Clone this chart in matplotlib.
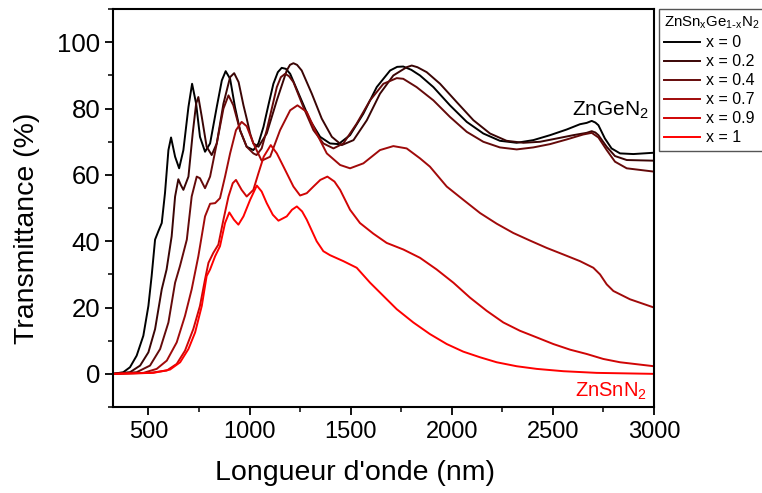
import numpy as np
import matplotlib
matplotlib.use('Agg')
import matplotlib.pyplot as plt
from matplotlib.ticker import MultipleLocator

plt.rcParams['font.family'] = ['Liberation Sans', 'DejaVu Sans']
plt.rcParams['mathtext.default'] = 'regular'

# values: (wavelength nm, transmittance %)
wl_x0 = [325, 376, 409, 442, 475, 500, 516, 533, 549, 566, 582, 599, 612, 632, 652, 673, 698, 716, 736, 755,
         780, 805, 838, 863, 882, 904, 928, 953, 986, 1019, 1044, 1069, 1095, 1118, 1140, 1159, 1180, 1201, 1250,
         1299, 1349, 1398, 1440, 1497, 1563, 1629, 1695, 1730, 1760, 1800, 1843, 1909, 1991, 2074, 2156, 2238,
         2321, 2403, 2486, 2568, 2634, 2667, 2692, 2710, 2725, 2757, 2790, 2832, 2898, 3000]
tr_x0 = [0, 0.5, 2, 5.5, 11.5, 20.5, 29.5, 40.5, 43, 45.5, 54.5, 67.5, 71.3, 65.5, 62, 67.5, 80.5, 87.5, 81.5, 71.5,
         67, 69.5, 80.5, 88.5, 91.3, 89, 80.5, 73.5, 68.5, 67.5, 69.5, 74.5, 81.5, 87.5, 91, 92.3, 92, 90.5, 83.5,
         76.5, 71.5, 69.5, 69.3, 72, 78.5, 86.5, 91.5, 92.6, 92.7, 91.7, 90, 86.5, 81, 76, 72.5, 70.3,
         69.7, 70.5, 72, 73.7, 75.3, 75.7, 76.3, 75.8, 75, 71, 68, 66.5, 66.3, 66.7]

wl_x02 = [325, 409, 459, 500, 533, 566, 590, 615, 632, 648, 660, 673, 698, 719, 736, 747, 764, 788, 813, 838,
          871, 904, 924, 946, 970, 986, 1003, 1019, 1044, 1085, 1135, 1184, 1200, 1217, 1235, 1258, 1308, 1357,
          1407, 1456, 1514, 1580, 1645, 1711, 1777, 1802, 1830, 1876, 1942, 2024, 2107, 2189, 2271, 2354, 2436,
          2519, 2601, 2667, 2692, 2710, 2725, 2766, 2807, 2865, 3000]
tr_x02 = [0, 0.5, 2.5, 6.5, 13.5, 25.5, 31.5, 41.5, 53.5, 58.7, 57, 55.5, 59.5, 72.5, 81.5, 83.5, 77.5, 68.5, 66, 69.5,
          81.5, 89.5, 90.7, 88, 81, 77, 72.5, 69.5, 68.5, 72.5, 82.5, 91.5, 93.2, 93.7, 93.2, 91.5, 84.5, 77,
          71.5, 69, 70.5, 76.5, 84.5, 90, 92.5, 93, 92.5, 91, 87.5, 82, 76.5, 72.5, 70.3, 69.7, 70,
          71, 72, 72.7, 73.2, 72.8, 72, 68.5, 65.7, 64.5, 64.3]

wl_x04 = [325, 442, 508, 558, 599, 632, 656, 690, 714, 739, 755, 780, 805, 838, 871, 896, 920, 953, 986, 1019,
          1035, 1060, 1085, 1135, 1155, 1176, 1195, 1217, 1266, 1316, 1365, 1415, 1464, 1530, 1596, 1662, 1728,
          1760, 1826, 1909, 1991, 2074, 2156, 2238, 2321, 2403, 2486, 2568, 2650, 2692, 2725, 2766, 2807, 2865, 3000]
tr_x04 = [0, 0.5, 2.5, 7.5, 15.5, 27.5, 32.5, 40.5, 53.5, 59.5, 59, 56, 59.5, 69.5, 80, 84, 81, 73.5, 68.5, 66.5,
          66, 68, 73.5, 86.5, 89.5, 90.5, 89.8, 88, 80.5, 73.5, 69.5, 68, 69.5, 75.5, 82.5, 87.5, 89.2,
          89, 86.5, 82.5, 77.5, 73, 70, 68.3, 67.7, 68.3, 69.3, 70.7, 72.2, 72.7, 71.3, 67.5, 64, 62, 61]

wl_x07 = [325, 475, 541, 591, 640, 681, 714, 747, 780, 805, 830, 854, 879, 904, 933, 961, 986, 1019, 1060, 1102,
          1151, 1201, 1237, 1283, 1332, 1382, 1448, 1497, 1563, 1645, 1711, 1777, 1843, 1892, 1975, 2057, 2140,
          2222, 2304, 2387, 2469, 2552, 2634, 2700, 2733, 2766, 2799, 2881, 3000]
tr_x07 = [0, 0.3, 1.5, 4, 9.5, 17.5, 25.5, 35.5, 47.5, 51.3, 51.5, 53, 59.5, 66.5, 73.5, 76, 74.7, 69.5, 64.3, 65.5,
          73.5, 79.5, 81, 79, 72.5, 66.5, 63, 62, 63.5, 67.5, 68.7, 68, 65, 62.5, 56.5, 52.5, 48.5,
          45.3, 42.5, 40.2, 38, 36, 34, 32, 30, 27, 25, 22.5, 20]

wl_x09 = [325, 508, 591, 640, 681, 722, 755, 780, 797, 821, 846, 871, 896, 917, 933, 961, 986, 1019, 1044, 1070,
          1105, 1135, 1168, 1217, 1250, 1283, 1316, 1350, 1385, 1420, 1448, 1497, 1546, 1612, 1678, 1761, 1843,
          1925, 2008, 2090, 2173, 2255, 2337, 2420, 2502, 2585, 2667, 2749, 2832, 3000]
tr_x09 = [0, 0.3, 1, 3, 7, 13.5, 20.5, 28.5, 33.5, 36.5, 39, 46.5, 53.5, 57.5, 58.5, 55.5, 53.5, 55.5, 60.5, 65.5,
          69, 66.5, 62.5, 56.5, 53.8, 54.5, 56.5, 58.5, 59.5, 58, 55.5, 49.5, 45.5, 42.3, 39.5, 37.5, 35,
          31.5, 27.5, 23, 19, 15.5, 13, 11, 9, 7.3, 6, 4.5, 3.5, 2.3]

wl_x1 = [325, 525, 607, 657, 698, 731, 764, 788, 805, 830, 854, 879, 900, 923, 945, 970, 1003, 1036, 1060, 1085,
         1115, 1143, 1184, 1210, 1234, 1260, 1283, 1332, 1365, 1398, 1464, 1530, 1596, 1662, 1728, 1810, 1892,
         1975, 2057, 2140, 2222, 2321, 2420, 2552, 2716, 3000]
tr_x1 = [0, 0.3, 1.3, 3.5, 7.5, 12.5, 20.5, 29.5, 31.5, 35.5, 38.5, 45.5, 48.7, 46.5, 45, 47.5, 52.5, 56.8, 55, 51.5,
         48, 46.2, 47.5, 49.5, 50.5, 49, 46.5, 40, 37, 35.8, 34, 32, 27.5, 23.5, 19.5, 15.5, 12,
         9, 6.7, 5, 3.5, 2.3, 1.5, 0.8, 0.3, 0]

labels = ['x = 0', 'x = 0.2', 'x = 0.4', 'x = 0.7', 'x = 0.9', 'x = 1']
colors = ['#000000', '#3a0505', '#640a0a', '#a00a0a', '#d00505', '#ff0000']
series = [(wl_x0, tr_x0), (wl_x02, tr_x02), (wl_x04, tr_x04), (wl_x07, tr_x07), (wl_x09, tr_x09), (wl_x1, tr_x1)]

fig = plt.figure(figsize=(7.62, 4.93), dpi=100)
ax = fig.add_axes([0.1483, 0.1744, 0.710, 0.807])

for (wl, tr), lab, col in zip(series, labels, colors):
    ax.plot(wl, tr, color=col, lw=1.4, label=lab)

ax.set_xlim(325, 3000)
ax.set_ylim(-10, 110)
ax.xaxis.set_major_locator(MultipleLocator(500))
ax.xaxis.set_minor_locator(MultipleLocator(250))
ax.yaxis.set_major_locator(MultipleLocator(20))
ax.yaxis.set_minor_locator(MultipleLocator(10))

for sp in ax.spines.values():
    sp.set_linewidth(1.5)
ax.tick_params(which='major', direction='out', length=6, width=1.3)
ax.tick_params(which='minor', direction='out', length=3.5, width=1.1)
ax.tick_params(axis='x', which='major', labelsize=17, pad=4)
ax.tick_params(axis='y', which='major', labelsize=18.5, pad=3)

ax.set_xlabel("Longueur d'onde (nm)", fontsize=20.5)
ax.set_ylabel('Transmittance (%)', fontsize=20.5)
ax.xaxis.set_label_coords(0.448, -0.132)
ax.yaxis.set_label_coords(-0.135, 0.45)

ax.text(2975, 77.8, 'ZnGeN$_2$', ha='right', va='baseline', fontsize=15, color='black')
ax.text(2965, -7, 'ZnSnN$_2$', ha='right', va='baseline', fontsize=14.5, color='red')

leg = ax.legend(title=r'ZnSn$_x$Ge$_{1\text{-}x}$N$_2$', loc='upper left', bbox_to_anchor=(1.009, 1.0),
                borderaxespad=0, fontsize=11.5, title_fontsize=10.8, handlelength=2.2,
                handletextpad=0.4, labelspacing=0.25, borderpad=0.35, fancybox=False,
                framealpha=1, edgecolor='#555555', alignment='left')
leg.get_frame().set_linewidth(1.0)

fig.savefig('out.png', dpi=100)
